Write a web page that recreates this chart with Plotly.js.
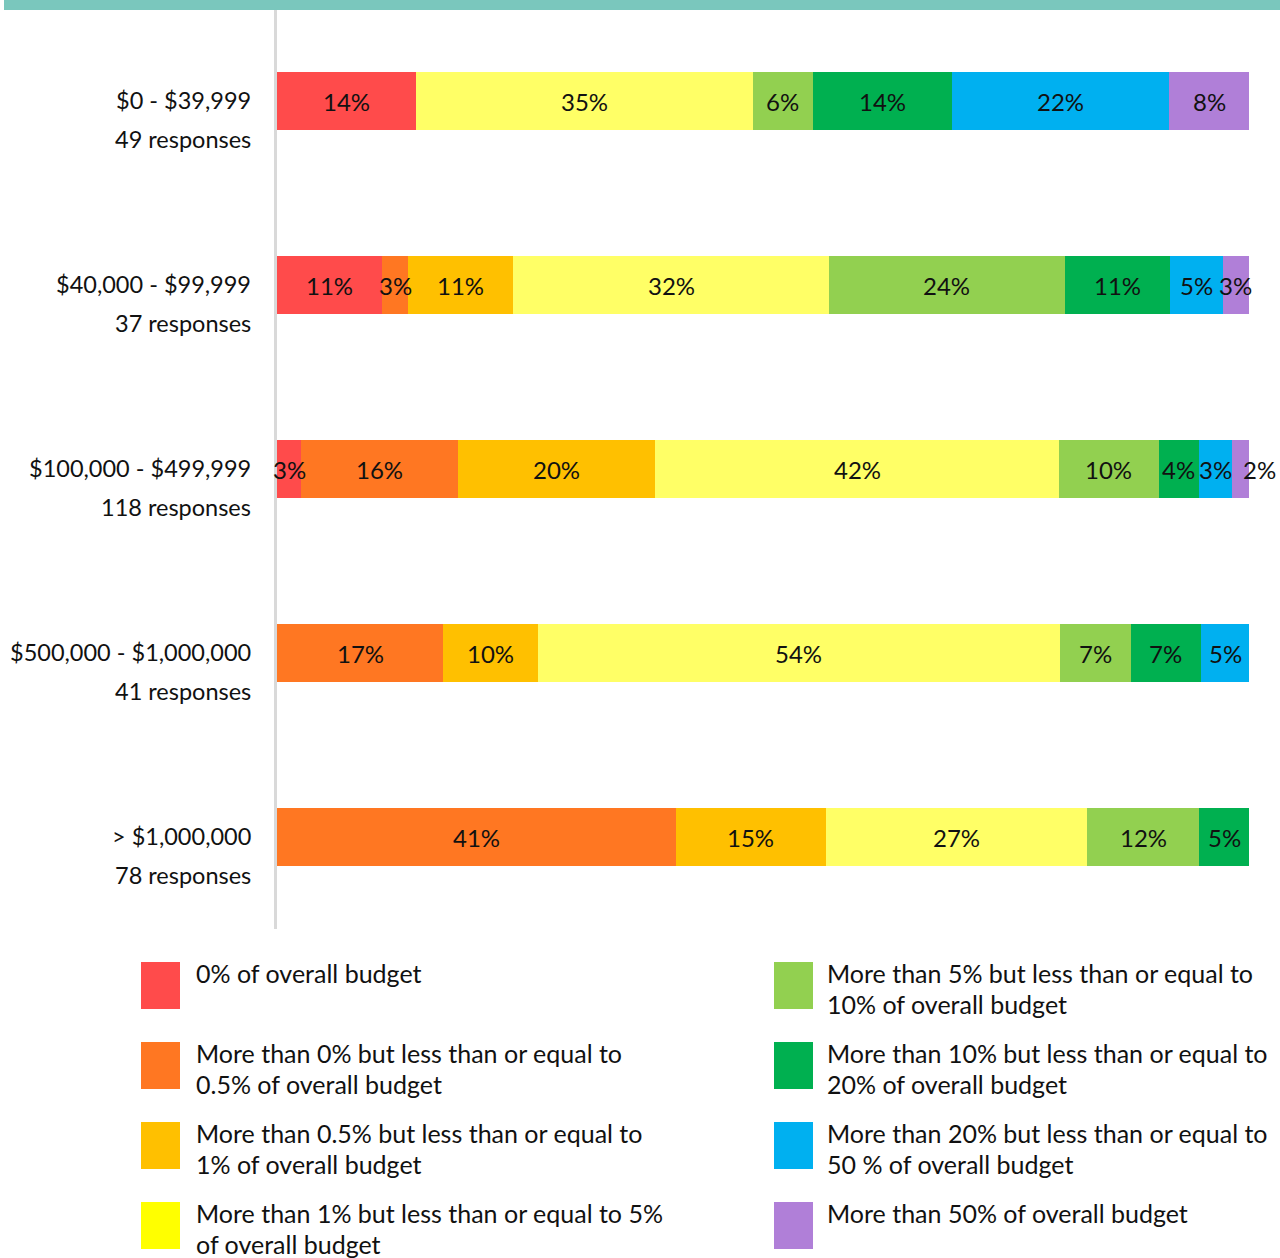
<!DOCTYPE html>
<html>
<head>
<meta charset="utf-8">
<script src="https://cdn.plot.ly/plotly-3.0.1.min.js"></script>
<style>
html,body{margin:0;padding:0;background:#fff;}
#chart{width:1280px;height:1258px;}
</style>
</head>
<body>
<div id="chart"></div>
<script>
// ---- data ----
const categories = ["$0 - $39,999", "$40,000 - $99,999", "$100,000 - $499,999", "$500,000 - $1,000,000", "> $1,000,000"];
const responses = ["49 responses", "37 responses", "118 responses", "41 responses", "78 responses"];
const seriesNames = [
  "0% of overall budget",
  "More than 0% but less than or equal to<br>0.5% of overall budget",
  "More than 0.5% but less than or equal to<br>1% of overall budget",
  "More than 1% but less than or equal to 5%<br>of overall budget",
  "More than 5% but less than or equal to<br>10% of overall budget",
  "More than 10% but less than or equal to<br>20% of overall budget",
  "More than 20% but less than or equal to<br>50 % of overall budget",
  "More than 50% of overall budget"
];
const barColors = ["#ff4b4b", "#ff7722", "#ffc000", "#ffff66", "#92d050", "#00b050", "#00b0f0", "#b07fd8"];
const legendColors = ["#ff4b4b", "#ff7722", "#ffc000", "#ffff00", "#92d050", "#00b050", "#00b0f0", "#b07fd8"];

// share of responses per category (one array per series, in category order)
const s0   = [14.3, 10.8, 2.5, 0, 0];
const s05  = [0, 2.7, 16.1, 17.1, 41.0];
const s1   = [0, 10.8, 20.3, 9.8, 15.4];
const s5   = [34.7, 32.4, 41.5, 53.7, 26.9];
const s10  = [6.1, 24.3, 10.2, 7.3, 11.5];
const s20  = [14.3, 10.8, 4.2, 7.3, 5.1];
const s50  = [22.4, 5.4, 3.4, 4.9, 0];
const s100 = [8.2, 2.7, 1.7, 0, 0];

// displayed labels
const t0   = ["14%", "11%", "3%", "", ""];
const t05  = ["", "3%", "16%", "17%", "41%"];
const t1   = ["", "11%", "20%", "10%", "15%"];
const t5   = ["35%", "32%", "42%", "54%", "27%"];
const t10  = ["6%", "24%", "10%", "7%", "12%"];
const t20  = ["14%", "11%", "4%", "7%", "5%"];
const t50  = ["22%", "5%", "3%", "5%", ""];
const t100 = ["8%", "3%", "2%", "", ""];

const seriesValues = [s0, s05, s1, s5, s10, s20, s50, s100];
const seriesTexts = [t0, t05, t1, t5, t10, t20, t50, t100];

// ---- layout geometry ----
const W = 1280, H = 1258;
const M = {l: 277, r: 31, t: 9, b: 329};
const PW = W - M.l - M.r, PH = H - M.t - M.b;
const px2x = p => (p - M.l) / PW;
const px2y = p => (H - M.b - p) / PH;
const FONT = "Lato, 'Open Sans', sans-serif";

const traces = seriesValues.map((vals, i) => ({
  type: "bar",
  orientation: "h",
  name: seriesNames[i],
  y: categories,
  x: vals,
  marker: {color: barColors[i], line: {width: 0}},
  hoverinfo: "skip"
}));

const annotations = [];

// segment labels placed at the middle of each (normalised) segment
const totals = categories.map((c, j) => seriesValues.reduce((a, s) => a + s[j], 0));
categories.forEach((c, j) => {
  let cum = 0;
  seriesValues.forEach((s, i) => {
    const v = s[j] / totals[j] * 100;
    if (seriesTexts[i][j]) {
      const isLast = seriesValues.slice(i + 1).every(ss => ss[j] === 0);
      const narrow = v < 2.2 && isLast;
      annotations.push({xref: "x", yref: "y", x: cum + v / 2, y: c,
        xanchor: narrow ? "left" : "center", yanchor: "middle", yshift: 0,
        text: seriesTexts[i][j], showarrow: false,
        font: {family: FONT, size: 24, color: "#111"}});
    }
    cum += v;
  });
});

categories.forEach((c, i) => {
  annotations.push({xref: "paper", yref: "y", x: 0, y: c, xanchor: "right", yanchor: "middle",
    xshift: -24, yshift: 1, text: c, showarrow: false, font: {family: FONT, size: 23.5, color: "#111"}});
  annotations.push({xref: "paper", yref: "y", x: 0, y: c, xanchor: "right", yanchor: "middle",
    xshift: -24, yshift: -38, text: responses[i], showarrow: false, font: {family: FONT, size: 23.5, color: "#111"}});
});

const shapes = [
  {type: "rect", xref: "paper", yref: "paper", x0: px2x(4), x1: px2x(1280), y0: px2y(10), y1: px2y(0),
   fillcolor: "#7ac7bd", line: {width: 0}, layer: "above"}
];

// custom legend: two columns of four, each text line placed separately
const legCols = [141, 774], legTextX = [194, 825];
const legRows = [962, 1042, 1122, 1202];
seriesNames.forEach((n, i) => {
  const col = Math.floor(i / 4), row = i % 4;
  const top = legRows[row];
  shapes.push({type: "rect", xref: "paper", yref: "paper",
    x0: px2x(legCols[col]), x1: px2x(legCols[col] + 39), y0: px2y(top + 47), y1: px2y(top),
    fillcolor: legendColors[i], line: {width: 0}});
  n.split("<br>").forEach((line, k) => {
    annotations.push({xref: "paper", yref: "paper", x: px2x(legTextX[col]), y: px2y(top + 11 + 31 * k),
      xanchor: "left", yanchor: "middle", align: "left", text: line, showarrow: false,
      font: {family: FONT, size: 25, color: "#111"}});
  });
});

const layout = {
  width: W, height: H,
  margin: M,
  paper_bgcolor: "#fff", plot_bgcolor: "#fff",
  barmode: "stack",
  barnorm: "percent",
  bargap: 0.685,
  showlegend: false,
  hovermode: false,
  xaxis: {range: [0, 100], visible: false, fixedrange: true},
  yaxis: {type: "category", categoryorder: "array", categoryarray: categories, autorange: "reversed",
    showticklabels: false, ticks: "", showgrid: false, zeroline: false,
    showline: true, linecolor: "#d9d9d9", linewidth: 3, fixedrange: true},
  annotations: annotations,
  shapes: shapes
};

Plotly.newPlot("chart", traces, layout, {displayModeBar: false, staticPlot: true});
</script>
</body>
</html>
